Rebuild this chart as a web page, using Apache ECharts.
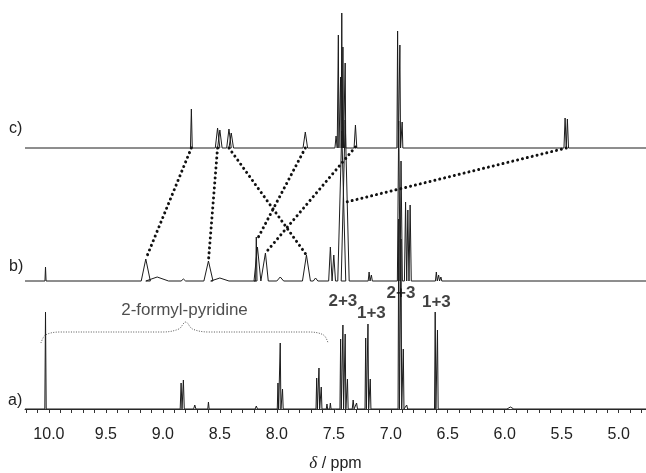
<!DOCTYPE html>
<html>
<head>
<meta charset="utf-8">
<script src="https://cdn.jsdelivr.net/npm/echarts@6/dist/echarts.min.js"></script>
<style>
  html, body { margin: 0; padding: 0; background: #fff; }
  #nmr { width: 646px; height: 473px; }
</style>
</head>
<body>
<div id="nmr"></div>
<script>
// chemical shift window (ppm), axis is drawn high -> low
const xMin = 4.76;
const xMax = 10.21;
const tickLabels = [10.0, 9.5, 9.0, 8.5, 8.0, 7.5, 7.0, 6.5, 6.0, 5.5, 5.0];

// vertical offsets of the stacked traces (baseline of a, b, c)
const offsetA = 0;
const offsetB = 128;
const offsetC = 261;

// a) peaks: shift, height, half width
const peaksA_pos = [10.03, 8.84, 8.82, 8.72, 8.60, 8.18, 7.99, 7.97, 7.95, 7.65, 7.63, 7.61, 7.56, 7.53,
  7.44, 7.42, 7.40, 7.38, 7.33, 7.30, 7.22, 7.20, 7.18, 6.93, 6.91, 6.89, 6.86, 6.61, 6.59, 5.95];
const peaksA_h = [97, 26, 29, 4, 7, 3, 26, 66, 20, 31, 41, 22, 5, 6,
  70, 84, 75, 30, 9, 6, 71, 85, 30, 190, 170, 60, 4, 97, 79, 2];
const peaksA_w = [0.006, 0.008, 0.008, 0.01, 0.006, 0.01, 0.006, 0.006, 0.006, 0.006, 0.006, 0.006, 0.006, 0.006,
  0.006, 0.006, 0.006, 0.006, 0.008, 0.008, 0.006, 0.006, 0.006, 0.006, 0.006, 0.006, 0.008, 0.006, 0.006, 0.03];

// b) peaks
const peaksB_pos = [10.03, 9.15, 9.05, 8.82, 8.60, 8.50, 8.18, 8.17, 8.10, 7.97, 7.74, 7.66, 7.53, 7.50,
  7.43, 7.40, 7.19, 7.17, 6.93, 6.91, 6.87, 6.85, 6.83, 6.60, 6.58, 6.56];
const peaksB_h = [14, 22, 4, 2, 20, 3, 44, 34, 28, 4, 26, 3, 34, 26,
  150, 161, 9, 6, 160, 120, 79, 71, 76, 9, 6, 4];
const peaksB_w = [0.005, 0.04, 0.1, 0.02, 0.04, 0.08, 0.006, 0.03, 0.025, 0.03, 0.035, 0.02, 0.015, 0.015,
  0.035, 0.035, 0.008, 0.008, 0.012, 0.012, 0.01, 0.01, 0.01, 0.008, 0.008, 0.008];

// c) peaks
const peaksC_pos = [8.75, 8.52, 8.50, 8.42, 8.40, 7.75, 7.48, 7.46, 7.44, 7.43, 7.42, 7.40, 7.31,
  6.94, 6.92, 6.90, 5.47, 5.45];
const peaksC_h = [39, 20, 18, 19, 15, 16, 12, 113, 71, 135, 101, 85, 23,
  117, 103, 26, 30, 29];
const peaksC_w = [0.008, 0.02, 0.02, 0.02, 0.02, 0.02, 0.01, 0.005, 0.005, 0.005, 0.005, 0.005, 0.012,
  0.006, 0.006, 0.006, 0.01, 0.01];

// dotted correlation lines: from c) to b)
const linkFrom = [[8.75, 261], [8.52, 261], [8.42, 261], [7.75, 261], [7.31, 262], [5.46, 261]];
const linkTo = [[9.15, 150], [8.60, 148], [7.74, 154], [8.18, 168], [8.10, 156], [7.39, 207]];

// brace over the aldehyde signals
const bracePts = [[10.07, 66], [10.03, 74], [9.9, 77], [9.0, 77], [8.86, 80], [8.8, 87], [8.74, 80],
  [8.6, 77], [7.72, 77], [7.59, 74], [7.55, 66]];

// annotation texts
const noteText = ['2-formyl-pyridine', '2+3', '1+3', '2+3', '1+3'];
const noteX = [8.81, 7.42, 7.17, 6.91, 6.60];
const noteY = [99, 108, 96, 116, 107];

function buildTrace(pos, h, w, base) {
  const order = pos.map((p, i) => i).sort((i, j) => pos[j] - pos[i]);
  const pts = [[xMax, base]];
  order.forEach(i => {
    pts.push([pos[i] + w[i], base]);
    pts.push([pos[i], base + h[i]]);
    pts.push([pos[i] - w[i], base]);
  });
  pts.push([xMin, base]);
  return pts;
}

const minorTicks = [];
for (let t = 48; t <= 102; t++) minorTicks.push(t / 10);

const chart = echarts.init(document.getElementById('nmr'));

const traceStyle = { color: '#1c1c1c', width: 1 };

const series = [
  { name: 'a', data: buildTrace(peaksA_pos, peaksA_h, peaksA_w, offsetA) },
  { name: 'b', data: buildTrace(peaksB_pos, peaksB_h, peaksB_w, offsetB) },
  { name: 'c', data: buildTrace(peaksC_pos, peaksC_h, peaksC_w, offsetC) }
].map(s => ({
  type: 'line',
  name: s.name,
  data: s.data,
  showSymbol: false,
  silent: true,
  lineStyle: traceStyle
}));

linkFrom.forEach((f, i) => {
  series.push({
    type: 'line',
    data: [f, linkTo[i]],
    showSymbol: false,
    silent: true,
    z: 3,
    lineStyle: { color: '#111', width: 3, type: [0.01, 5], cap: 'round' }
  });
});

series.push({
  type: 'line',
  data: bracePts,
  smooth: 0.35,
  showSymbol: false,
  silent: true,
  lineStyle: { color: '#555', width: 1, type: [1, 1.5] }
});

const notes = noteText.map((t, i) => ({ name: t, value: [noteX[i], noteY[i]] }));
// first note is the plain one
notes[0].label = { fontWeight: 'normal', color: '#222' };

series.push({
  type: 'scatter',
  symbolSize: 0,
  silent: true,
  z: 5,
  data: notes,
  label: {
    show: true,
    position: 'inside',
    formatter: p => p.name,
    fontFamily: 'Liberation Sans',
    fontSize: 17,
    fontWeight: 'bold',
    color: '#111'
  }
});

const option = {
  animation: false,
  backgroundColor: '#fff',
  grid: { left: 25, right: 0, top: 0, bottom: 55, outerBoundsMode: 'none' },
  xAxis: {
    type: 'value',
    inverse: true,
    min: xMin,
    max: xMax,
    name: '{i|δ} / ppm',
    nameLocation: 'middle',
    nameGap: 37,
    nameTextStyle: {
      fontFamily: 'Liberation Sans', fontSize: 16, color: '#222',
      rich: { i: { fontStyle: 'italic', fontFamily: 'Liberation Serif', fontSize: 17, color: '#222' } }
    },
    axisLine: { show: true, lineStyle: { color: '#333', width: 1 } },
    axisTick: { show: true, length: 4, customValues: minorTicks, lineStyle: { color: '#333' } },
    axisLabel: {
      customValues: tickLabels,
      formatter: v => v.toFixed(1),
      fontFamily: 'Liberation Sans',
      fontSize: 16,
      color: '#222',
      margin: 9
    },
    splitLine: { show: false }
  },
  yAxis: {
    type: 'value',
    min: -9,
    max: 409,
    show: false
  },
  graphic: [
    { type: 'text', left: 9, top: 121, style: { text: 'c)', font: '16px "Liberation Sans"', fill: '#222' } },
    { type: 'text', left: 9, top: 259, style: { text: 'b)', font: '16px "Liberation Sans"', fill: '#222' } },
    { type: 'text', left: 8, top: 393, style: { text: 'a)', font: '16px "Liberation Sans"', fill: '#222' } }
  ],
  series: series
};

chart.setOption(option);
</script>
</body>
</html>
